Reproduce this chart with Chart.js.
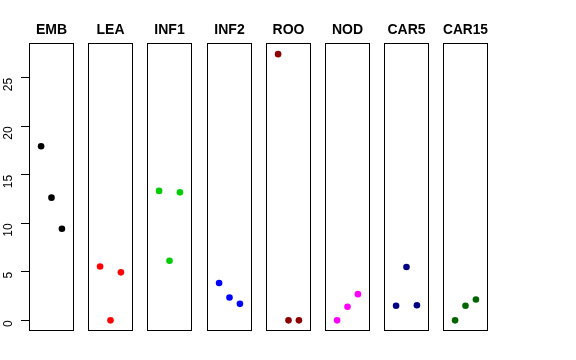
<!DOCTYPE html>
<html>
<head>
<meta charset="utf-8">
<script src="https://cdn.jsdelivr.net/npm/chart.js@4.4.0/dist/chart.umd.min.js"></script>
<style>
  body { margin: 0; background: #fff; }
  #wrap { position: relative; width: 576px; height: 360px; }
  #wrap canvas { position: absolute; top: 0; }
</style>
</head>
<body>
<div id="wrap"></div>
<script>
// Panels, colours and the three positions inside each panel
const groups = ['EMB', 'LEA', 'INF1', 'INF2', 'ROO', 'NOD', 'CAR5', 'CAR15']
const colors = ['#000000', '#FF0000', '#00CD00', '#0000FF', '#8B0000', '#FF00FF', '#000080', '#006400']
const positions = [1, 2, 3]

// Values
const embValues = [17.95, 12.65, 9.45]
const leaValues = [5.55, 0, 4.95]
const inf1Values = [13.35, 6.15, 13.2]
const inf2Values = [3.85, 2.35, 1.7]
const rooValues = [27.45, 0, 0]
const nodValues = [0, 1.4, 2.7]
const car5Values = [1.5, 5.5, 1.55]
const car15Values = [0, 1.5, 2.15]

const yTicks = [0, 5, 10, 15, 20, 25]

const allValues = [embValues, leaValues, inf1Values, inf2Values, rooValues, nodValues, car5Values, car15Values]

// left edge of every panel box in px
const panelLeft = [29, 88, 147, 207, 266, 325, 384, 443]
const panelWidth = 45
const axisWidth = 29

/**
 * Draw the frame around the plot area.
 */
const boxPlugin = {
  id: 'panelBox',
  afterDraw (chart) {
    const { ctx, chartArea: a } = chart
    ctx.save()
    ctx.strokeStyle = '#000'
    ctx.lineWidth = 1
    ctx.strokeRect(a.left + 0.5, a.top + 0.5, a.right - a.left - 1, a.bottom - a.top - 1)
    ctx.restore()
  }
}

const wrap = document.getElementById('wrap')

groups.forEach((name, i) => {
  const first = i === 0
  const side = first ? axisWidth : 8
  const canvas = document.createElement('canvas')
  const left = panelLeft[i] - side
  const width = panelWidth + side * 2
  canvas.width = width
  canvas.height = 360
  canvas.style.left = left + 'px'
  canvas.style.width = width + 'px'
  canvas.style.height = '360px'
  wrap.appendChild(canvas)

  const points = positions.map((x, j) => ({ x: x, y: allValues[i][j] }))

  new Chart(canvas.getContext('2d'), {
    type: 'scatter',
    data: {
      datasets: [{
        data: points,
        backgroundColor: colors[i],
        borderWidth: 0,
        pointRadius: 3.3
      }]
    },
    options: {
      responsive: false,
      animation: false,
      devicePixelRatio: 1,
      layout: {
        padding: { left: first ? 0 : side, right: side, top: 0, bottom: 29 }
      },
      scales: {
        x: {
          type: 'linear',
          display: false,
          min: -0.16,
          max: 4.16
        },
        y: {
          display: first,
          min: -1.1,
          max: 28.6,
          afterFit: scale => { if (first) scale.width = axisWidth },
          afterBuildTicks: scale => { scale.ticks = yTicks.map(v => ({ value: v })) },
          ticks: {
            minRotation: 90,
            maxRotation: 90,
            color: '#000',
            padding: 12,
            font: { family: 'Liberation Sans', size: 12 }
          },
          grid: {
            drawOnChartArea: false,
            tickLength: 8,
            color: '#000'
          },
          border: { display: false }
        }
      },
      plugins: {
        legend: { display: false },
        tooltip: { enabled: false },
        title: {
          display: true,
          fullSize: false,
          text: name,
          color: '#000',
          padding: { top: 23, bottom: 6 },
          font: { family: 'Liberation Sans', size: 14, weight: 'bold', lineHeight: 1 }
        }
      }
    },
    plugins: [boxPlugin]
  })
})
</script>
</body>
</html>
